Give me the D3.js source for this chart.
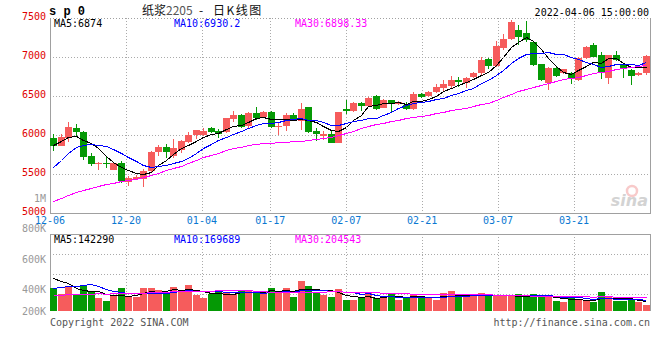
<!DOCTYPE html>
<html>
<head>
<meta charset="utf-8">
<script src="https://cdn.jsdelivr.net/npm/d3@7"></script>
<style>
  body { margin: 0; background: #fff; }
  svg { display: block; }
  text { font-family: "DejaVu Sans Mono", monospace; font-size: 10px; }
</style>
</head>
<body>
<svg id="chart" width="660" height="360"></svg>
<script>
// sessions on the chart (sp2205 pulp, daily)
const dates = [
  '12-06','12-07','12-08','12-09','12-10','12-13','12-14','12-15','12-16','12-17',
  '12-20','12-21','12-22','12-23','12-24','12-27','12-28','12-29','12-30','12-31',
  '01-04','01-05','01-06','01-07','01-10','01-11','01-12','01-13','01-14','01-17',
  '01-18','01-19','01-20','01-21','01-24','01-25','01-26','01-27','01-28','02-07',
  '02-08','02-09','02-10','02-11','02-14','02-15','02-16','02-17','02-18','02-21',
  '02-22','02-23','02-24','02-25','02-28','03-01','03-02','03-03','03-04','03-07',
  '03-08','03-09','03-10','03-11','03-14','03-15','03-16','03-17','03-18','03-21',
  '03-22','03-23','03-24','03-25','03-28','03-29','03-30','03-31','04-01','04-06'
];
const open = [
  5965,5860,5965,6090,6040,5730,5640,5645,5555,5635, 5395,5435,5435,5540,5780,5840,5735,5810,5915,6000,
  6005,6085,6055,6035,6200,6255,6120,6285,6235,6300, 6105,6120,6255,6180,6365,6045,5990,6015,5900,6335,
  6310,6415,6375,6500,6350,6450,6400,6390,6335,6525, 6500,6545,6605,6630,6705,6670,6750,6790,6970,6890,
  7120,7225,7340,7305,7195,6910,6670,6855,6800,6790, 6710,6985,7155,7030,6735,7025,6895,6830,6770,6790
];
const high = [
  6010,6010,6170,6135,6045,5765,5650,5720,5650,5665, 5470,5490,5570,5790,5870,5890,5955,5930,6035,6070,
  6085,6100,6075,6220,6310,6270,6300,6355,6310,6305, 6160,6280,6285,6405,6365,6085,6050,6065,6300,6455,
  6420,6425,6490,6515,6460,6455,6440,6420,6545,6540, 6560,6660,6700,6755,6750,6745,6810,6995,6985,7200,
  7290,7480,7410,7460,7200,6915,6870,6870,6845,6810, 7000,7140,7185,7065,7030,7075,6900,6840,6810,7030
];
const low = [
  5800,5855,5905,5980,5685,5600,5545,5575,5550,5380, 5340,5420,5335,5530,5730,5700,5700,5775,5900,5955,
  5985,6030,5965,6030,6170,6090,6085,6190,6225,6085, 6000,6045,6190,6065,6030,5925,5935,5895,5895,6270,
  6300,6310,6365,6320,6340,6280,6380,6320,6320,6470, 6490,6540,6560,6600,6620,6605,6725,6770,6845,6875,
  7090,7220,7155,7195,6885,6690,6580,6740,6780,6655, 6690,6975,7000,6715,6660,6950,6725,6635,6760,6775
];
const close = [
  5860,5970,6105,6035,5720,5630,5645,5625,5640,5415, 5445,5465,5540,5785,5840,5780,5830,5925,6000,6060,
  6050,6040,6010,6215,6255,6105,6280,6220,6300,6105, 6120,6255,6205,6335,6035,6015,6015,5900,6300,6310,
  6415,6375,6480,6335,6450,6415,6425,6335,6525,6490, 6545,6620,6650,6700,6685,6735,6790,6960,6885,7140,
  7230,7450,7258,7220,6895,6705,6865,6755,6840,6720, 6985,7130,7002,6790,7025,6960,6840,6755,6800,7015
];
const volume = [
  339000,254000,364000,254000,373000,279000,199000,149000,225000,349000,
  225000,214000,349000,349000,314000,254000,364000,289000,389000,240000,
  199000,254000,289000,289000,254000,314000,299000,275000,299000,349000,
  264000,349000,214000,454000,373000,264000,240000,214000,329000,164000,
  164000,190000,264000,190000,205000,264000,164000,214000,254000,214000,
  198200,171600,265700,302200,223600,239100,239100,265700,223600,223600,
  223600,223600,250200,223600,250200,208100,223600,156100,129500,198500,
  172000,158000,137000,290000,228440,155000,154800,178500,132000,91150
];

// the 29 sessions before 12-06 are off the chart; back-solved from where the MA lines start
const priorClose = [
  4950,4920,4900,4880,4910,4940,4960,4930,4920,4977,
  4960,4940,4920,4950,4970,4990,4960,4940,4970,4993,
  5080,5180,5290,5400,5550,5700,5860,5950,5990
];
const priorVolume = [
  159000,170000,180000,191000,175000,186000,196000,180000,170000,191000,
  201000,186000,178000,182000,191000,196000,189000,180000,193000,207000,
  201000,212000,196000,217000,217000,456000,551000,578000,519000
];

const priceTicks = [5000, 5500, 6000, 6500, 7000, 7500];
const dateTicks = ['12-06', '12-20', '01-04', '01-17', '02-07', '02-21', '03-07', '03-21'];
const volTicks = [1000000, 800000, 600000, 400000, 200000];
const volTickLabels = ['1M', '800K', '600K', '400K', '200K'];
const maSpec = [
  {n: 5, color: '#000000', label: 'MA5'},
  {n: 10, color: '#0000ff', label: 'MA10'},
  {n: 30, color: '#ff00ff', label: 'MA30'}
];

const RED = '#f65c5c', GREEN = '#059905', GRID = '#aaaaaa', FRAME = '#a0a0a0';
const left = 50, right = 650;
const priceTop = 18, priceBottom = 213;
const volTop = 234, volBottom = 311;

const svg = d3.select('#chart');

const x = d3.scaleBand().domain(d3.range(dates.length))
    .range([left, right]).paddingInner(0.2).paddingOuter(0.1).align(0);
// sina places the date grid on an (n - 1) step, not on the candles
const xTick = d3.scaleLinear().domain([0, dates.length - 1]).range([left, right]);
const yP = d3.scaleLinear().domain([5000, 7500]).range([priceBottom, priceTop]);
const yV = d3.scaleLinear().domain([0, 1150000]).range([volBottom, volTop]);
const yVLabel = d3.scaleLinear().domain([0, 1000000]).range([350, 198.5]);

function movingAverage(series, prior, n) {
  const all = prior.concat(series);
  return series.map((d, i) => {
    const end = prior.length + i + 1;
    return d3.mean(all.slice(end - n, end));
  });
}

const cx = i => Math.round(x(i)) + 3;
const isUp = i => close[i] >= open[i];

// ---- grids ----
const grid = svg.append('g')
    .attr('stroke', GRID)
    .attr('stroke-dasharray', '1,2')
    .attr('shape-rendering', 'crispEdges');

dateTicks.forEach(t => {
  const xx = Math.round(xTick(dates.indexOf(t))) + 0.5;
  if (xx < left + 2) return;
  grid.append('line').attr('x1', xx).attr('x2', xx).attr('y1', priceTop).attr('y2', priceBottom);
  grid.append('line').attr('x1', xx).attr('x2', xx).attr('y1', volTop).attr('y2', volBottom);
});
priceTicks.filter(p => p > 5000).forEach(p => {
  const yy = Math.round(yP(p)) + 0.5;
  grid.append('line').attr('x1', left).attr('x2', right).attr('y1', yy).attr('y2', yy);
});
[1, 2, 3].forEach(k => {
  const yy = Math.round(volTop + k * 20) + 0.5;
  grid.append('line').attr('x1', left).attr('x2', right).attr('y1', yy).attr('y2', yy);
});

// ---- frames ----
const frame = svg.append('g').attr('stroke', FRAME).attr('shape-rendering', 'crispEdges');
frame.append('line').attr('x1', left + 0.5).attr('x2', left + 0.5).attr('y1', priceTop).attr('y2', priceBottom);
frame.append('line').attr('x1', right + 0.5).attr('x2', right + 0.5).attr('y1', priceTop).attr('y2', priceBottom);
frame.append('line').attr('x1', left).attr('x2', right + 1).attr('y1', priceBottom + 0.5).attr('y2', priceBottom + 0.5);
frame.append('line').attr('x1', left).attr('x2', right + 1).attr('y1', priceTop + 0.5).attr('y2', priceTop + 0.5)
    .attr('stroke-dasharray', '1,2');
frame.append('line').attr('x1', left + 0.5).attr('x2', left + 0.5).attr('y1', volTop).attr('y2', volBottom);
frame.append('line').attr('x1', right + 0.5).attr('x2', right + 0.5).attr('y1', volTop).attr('y2', volBottom);
frame.append('line').attr('x1', left).attr('x2', right + 1).attr('y1', volTop + 0.5).attr('y2', volTop + 0.5);

// ---- watermark ----
const wm = svg.append('g').attr('opacity', 0.55);
wm.append('circle').attr('cx', 632).attr('cy', 191).attr('r', 5)
    .attr('fill', 'none').attr('stroke', '#f3a0a0').attr('stroke-width', 2.5);
wm.append('text').attr('x', 648).attr('y', 206).attr('text-anchor', 'end')
    .style('font-family', 'DejaVu Sans').style('font-size', '16px')
    .style('font-style', 'italic').style('font-weight', 'bold')
    .attr('fill', '#b0b0b0').text('sina');

// ---- candles ----
const candles = svg.append('g').attr('shape-rendering', 'crispEdges');
candles.selectAll('rect.wick').data(d3.range(dates.length)).join('rect')
    .attr('class', 'wick')
    .attr('x', i => cx(i))
    .attr('width', 1)
    .attr('y', i => Math.round(yP(high[i])))
    .attr('height', i => Math.max(1, Math.round(yP(low[i])) - Math.round(yP(high[i]))))
    .attr('fill', i => isUp(i) ? RED : GREEN);
candles.selectAll('rect.body').data(d3.range(dates.length)).join('rect')
    .attr('class', 'body')
    .attr('x', i => Math.round(x(i)))
    .attr('width', Math.round(x.bandwidth()) + 1)
    .attr('y', i => Math.round(yP(Math.max(open[i], close[i]))))
    .attr('height', i => Math.max(1, Math.round(yP(Math.min(open[i], close[i]))) - Math.round(yP(Math.max(open[i], close[i])))))
    .attr('fill', i => isUp(i) ? RED : GREEN);

// ---- volume bars ----
svg.append('g').attr('shape-rendering', 'crispEdges')
  .selectAll('rect').data(d3.range(dates.length)).join('rect')
    .attr('x', i => Math.round(x(i)))
    .attr('width', Math.round(x.bandwidth()) + 1)
    .attr('y', i => Math.round(yV(volume[i])))
    .attr('height', i => volBottom - Math.round(yV(volume[i])))
    .attr('fill', i => isUp(i) ? RED : GREEN);

// ---- moving averages ----
const priceMA = maSpec.map(m => movingAverage(close, priorClose, m.n));
const volMA = maSpec.map(m => movingAverage(volume, priorVolume, m.n));

maSpec.forEach((m, k) => {
  svg.append('path')
      .attr('d', d3.line().x((d, i) => cx(i) + 0.5).y(d => Math.round(yP(d)) + 0.5)(priceMA[k]))
      .attr('fill', 'none').attr('stroke', m.color).attr('stroke-width', 1)
      .attr('shape-rendering', 'crispEdges');
  svg.append('path')
      .attr('d', d3.line().x((d, i) => cx(i) + 0.5).y(d => Math.round(yV(d)) + 0.5)(volMA[k]))
      .attr('fill', 'none').attr('stroke', m.color).attr('stroke-width', 1)
      .attr('shape-rendering', 'crispEdges');
});

// ---- axis labels ----
svg.append('g').selectAll('text').data(priceTicks).join('text')
    .attr('x', 46).attr('y', p => yP(p) + 2)
    .attr('text-anchor', 'end').attr('fill', '#e00000')
    .text(p => p);

svg.append('g').selectAll('text').data(volTicks).join('text')
    .attr('x', 46).attr('y', v => Math.min(yVLabel(v), 311.5) + 3.5)
    .attr('text-anchor', 'end').attr('fill', '#999999')
    .text((v, i) => volTickLabels[i]);

svg.append('g').selectAll('text').data(dateTicks).join('text')
    .attr('x', t => xTick(dates.indexOf(t)))
    .attr('y', 223.5)
    .attr('text-anchor', 'middle').attr('fill', '#0a78d2')
    .text(t => t);

// ---- legends ----
const lastFmt = [d3.format('.0f'), d3.format('.1f'), d3.format('.2f')];
const legendX = [54, 174, 295];
maSpec.forEach((m, k) => {
  const pv = priceMA[k][priceMA[k].length - 1];
  const vv = volMA[k][volMA[k].length - 1];
  svg.append('text').attr('x', legendX[k]).attr('y', 27).attr('fill', m.color)
      .text(m.label + ':' + lastFmt[k](pv));
  svg.append('text').attr('x', legendX[k]).attr('y', 242.5).attr('fill', m.color)
      .text(m.label + ':' + Math.round(vv));
});

// ---- header / footer ----
svg.append('text').attr('x', 49).attr('y', 15)
    .style('font-family', 'Liberation Mono').style('font-size', '12px').style('font-weight', 'bold')
    .text('s p 0');
const title = svg.append('text').attr('x', 142).attr('y', 15)
    .style('font-family', '"Noto Sans CJK SC"').style('font-size', '12px')
    .attr('fill', '#111');
title.append('tspan').text('纸浆');
title.append('tspan').attr('fill', '#555').text('2205');
title.append('tspan').attr('x', 199).text('-');
title.append('tspan').attr('x', 213).style('letter-spacing', '1.5px').text('日K线图');
svg.append('text').attr('x', 649).attr('y', 15.5).attr('text-anchor', 'end')
    .text('2022-04-06 15:00:00');
svg.append('text').attr('x', 50).attr('y', 325.5).attr('fill', '#555')
    .text('Copyright 2022 SINA.COM');
svg.append('text').attr('x', 650).attr('y', 325.5).attr('text-anchor', 'end').attr('fill', '#555')
    .text('http://finance.sina.com.cn');
</script>
</body>
</html>
